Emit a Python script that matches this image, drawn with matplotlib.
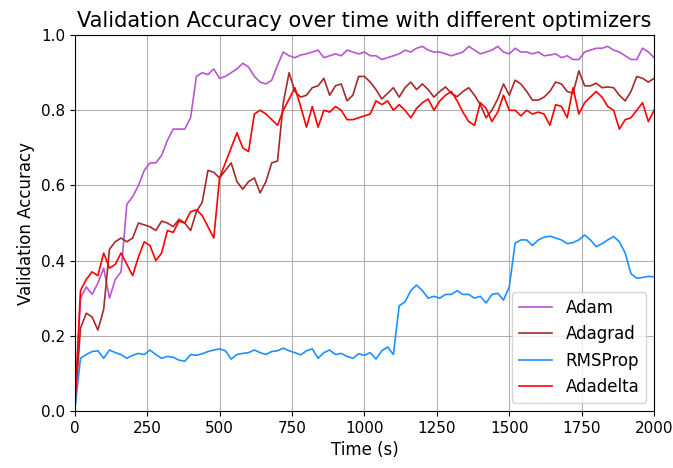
import matplotlib
matplotlib.use("Agg")
import matplotlib.pyplot as plt
import numpy as np

# time axis in seconds, one reading every 20 s
time_s = np.arange(0, 2001, 20)

adam = [
    0.0, 0.30, 0.33, 0.31, 0.34, 0.38, 0.30, 0.35, 0.37, 0.55,
    0.57, 0.60, 0.64, 0.66, 0.66, 0.68, 0.72, 0.75, 0.75, 0.75,
    0.78, 0.89, 0.90, 0.895, 0.91, 0.885, 0.89, 0.90, 0.91, 0.925,
    0.915, 0.89, 0.875, 0.87, 0.88, 0.92, 0.955, 0.945, 0.94, 0.947,
    0.95, 0.955, 0.96, 0.94, 0.945, 0.95, 0.945, 0.96, 0.955, 0.95,
    0.955, 0.945, 0.945, 0.935, 0.94, 0.945, 0.95, 0.96, 0.955, 0.965,
    0.97, 0.96, 0.955, 0.955, 0.95, 0.945, 0.95, 0.955, 0.97, 0.96,
    0.95, 0.955, 0.96, 0.97, 0.955, 0.95, 0.965, 0.955, 0.955, 0.95,
    0.955, 0.945, 0.947, 0.95, 0.94, 0.945, 0.935, 0.935, 0.955, 0.96,
    0.965, 0.965, 0.97, 0.96, 0.955, 0.945, 0.935, 0.935, 0.965, 0.955,
    0.94,
]

adagrad = [
    0.0, 0.22, 0.26, 0.25, 0.215, 0.27, 0.43, 0.45, 0.46, 0.45,
    0.46, 0.50, 0.495, 0.49, 0.48, 0.505, 0.50, 0.49, 0.51, 0.50,
    0.48, 0.53, 0.555, 0.64, 0.635, 0.62, 0.64, 0.66, 0.61, 0.59,
    0.61, 0.62, 0.58, 0.61, 0.66, 0.665, 0.82, 0.90, 0.85, 0.835,
    0.84, 0.86, 0.865, 0.885, 0.84, 0.865, 0.87, 0.825, 0.84, 0.89,
    0.89, 0.875, 0.855, 0.83, 0.845, 0.86, 0.835, 0.86, 0.875, 0.855,
    0.87, 0.855, 0.835, 0.85, 0.862, 0.845, 0.836, 0.85, 0.86, 0.84,
    0.815, 0.78, 0.80, 0.83, 0.87, 0.84, 0.88, 0.87, 0.85, 0.827,
    0.827, 0.835, 0.85, 0.875, 0.87, 0.85, 0.845, 0.905, 0.865, 0.865,
    0.872, 0.86, 0.862, 0.86, 0.84, 0.825, 0.85, 0.89, 0.885, 0.875,
    0.885,
]

rmsprop = [
    0.0, 0.14, 0.15, 0.158, 0.16, 0.14, 0.162, 0.155, 0.15, 0.14,
    0.148, 0.153, 0.15, 0.162, 0.15, 0.14, 0.145, 0.143, 0.135, 0.132,
    0.15, 0.148, 0.152, 0.158, 0.162, 0.165, 0.16, 0.138, 0.15, 0.153,
    0.155, 0.162, 0.155, 0.15, 0.158, 0.16, 0.167, 0.16, 0.155, 0.149,
    0.16, 0.165, 0.14, 0.155, 0.162, 0.15, 0.153, 0.145, 0.14, 0.152,
    0.148, 0.155, 0.138, 0.16, 0.17, 0.15, 0.28, 0.29, 0.32, 0.335,
    0.32, 0.30, 0.305, 0.30, 0.31, 0.31, 0.32, 0.31, 0.31, 0.30,
    0.305, 0.287, 0.31, 0.313, 0.295, 0.33, 0.446, 0.455, 0.455, 0.44,
    0.455, 0.462, 0.465, 0.46, 0.455, 0.445, 0.448, 0.455, 0.468, 0.455,
    0.437, 0.445, 0.455, 0.464, 0.45, 0.42, 0.365, 0.353, 0.355, 0.358,
    0.357,
]

adadelta = [
    0.0, 0.32, 0.35, 0.37, 0.36, 0.42, 0.38, 0.39, 0.42, 0.39,
    0.36, 0.41, 0.45, 0.44, 0.40, 0.42, 0.48, 0.475, 0.505, 0.50,
    0.53, 0.535, 0.52, 0.49, 0.46, 0.62, 0.66, 0.70, 0.74, 0.70,
    0.69, 0.79, 0.80, 0.79, 0.775, 0.76, 0.80, 0.83, 0.86, 0.81,
    0.755, 0.81, 0.755, 0.80, 0.795, 0.81, 0.80, 0.775, 0.775, 0.78,
    0.785, 0.79, 0.825, 0.815, 0.825, 0.80, 0.815, 0.80, 0.78, 0.805,
    0.82, 0.83, 0.80, 0.825, 0.84, 0.85, 0.825, 0.795, 0.77, 0.76,
    0.82, 0.805, 0.77, 0.795, 0.84, 0.80, 0.80, 0.785, 0.80, 0.79,
    0.795, 0.79, 0.76, 0.815, 0.81, 0.78, 0.86, 0.79, 0.82, 0.835,
    0.85, 0.835, 0.81, 0.80, 0.75, 0.775, 0.78, 0.80, 0.82, 0.77,
    0.80,
]

fig = plt.figure(figsize=(6.73, 4.68), dpi=100)
ax = fig.add_axes([0.111, 0.122, 0.861, 0.803])

ax.plot(time_s, adam, color="mediumorchid", linewidth=1.2, label="Adam")
ax.plot(time_s, adagrad, color="brown", linewidth=1.2, label="Adagrad")
ax.plot(time_s, rmsprop, color="dodgerblue", linewidth=1.2, label="RMSProp")
ax.plot(time_s, adadelta, color="red", linewidth=1.2, label="Adadelta")

ax.set_xlim(0, 2000)
ax.set_ylim(0, 1.0)
ax.set_xticks(np.arange(0, 2001, 250))
ax.tick_params(labelsize=11)
ax.set_xlabel("Time (s)", fontsize=12)
ax.set_ylabel("Validation Accuracy", fontsize=12)
ax.set_title("Validation Accuracy over time with different optimizers", fontsize=15)
ax.grid(True)
ax.legend(loc="lower right", fontsize=12)

fig.savefig("out.png", dpi=100)
